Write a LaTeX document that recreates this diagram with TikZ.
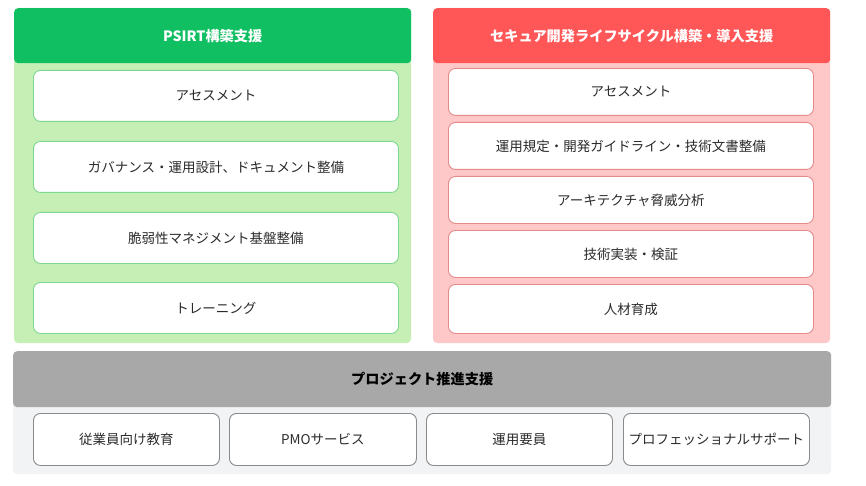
\documentclass[tikz,border=0pt]{standalone}
\usepackage{fontspec}
\setmainfont{Noto Sans CJK JP}
\usetikzlibrary{positioning}
\definecolor{ghead}{HTML}{10BF62}
\definecolor{gbody}{HTML}{C6EFB6}
\definecolor{gline}{HTML}{7ED78E}
\definecolor{rhead}{HTML}{FF5757}
\definecolor{rbody}{HTML}{FFC8C8}
\definecolor{rline}{HTML}{E38A8A}
\definecolor{khead}{HTML}{A8A8A8}
\definecolor{kbody}{HTML}{F2F3F5}
\definecolor{kline}{HTML}{8A8A8A}
\definecolor{txt}{HTML}{2B2B2B}
\tikzset{
  x=1pt, y=-1pt,
  head/.style={rounded corners=4pt, inner sep=0pt, font=\fontsize{14.2}{16}\selectfont\bfseries},
  itembox/.style={draw, line width=0.9pt, fill=white, rounded corners=7pt, inner sep=0pt, text=txt, font=\fontsize{13.5}{15}\selectfont},
}
\newcommand{\boxat}[7]{% name, x1, y1, x2, y2, style color, text
  \node[itembox, draw=#6, minimum width={(#4-#2)*1pt}, minimum height={(#5-#3)*1pt}, anchor=north west] (#1) at (#2,#3) {#7};}
\begin{document}
\begin{tikzpicture}
\useasboundingbox (0,0) rectangle (866,486);
\fill[white] (0,0) rectangle (866,486);
% green panel
\fill[gbody, rounded corners=4pt] (14,8) rectangle (411,343);
\node[head, fill=ghead, text=white, minimum width=397pt, minimum height=55pt, anchor=north west] (gh) at (14,8) {PSIRT構築支援};
\boxat{g1}{33}{70}{398}{121}{gline}{アセスメント}
\boxat{g2}{33}{141}{398}{192}{gline}{ガバナンス・運用設計、ドキュメント整備}
\boxat{g3}{33}{212}{398}{263}{gline}{脆弱性マネジメント基盤整備}
\boxat{g4}{33}{282}{398}{333}{gline}{トレーニング}
% red panel
\fill[rbody, rounded corners=4pt] (433,8) rectangle (830,343);
\node[head, fill=rhead, text=white, minimum width=397pt, minimum height=55pt, anchor=north west] (rh) at (433,8) {セキュア開発ライフサイクル構築・導入支援};
\boxat{r1}{448}{68}{813}{115}{rline}{アセスメント}
\boxat{r2}{448}{122}{813}{169}{rline}{運用規定・開発ガイドライン・技術文書整備}
\boxat{r3}{448}{176}{813}{223}{rline}{アーキテクチャ脅威分析}
\boxat{r4}{448}{230}{813}{277}{rline}{技術実装・検証}
\boxat{r5}{448}{284}{813}{333}{rline}{人材育成}
% gray panel
\fill[kbody, rounded corners=4pt] (13,351) rectangle (831,474);
\node[head, fill=khead, text=black, minimum width=818pt, minimum height=56pt, anchor=north west] (kh) at (13,351) {プロジェクト推進支援};
\boxat{k1}{33}{413}{219}{465}{kline}{従業員向け教育}
\boxat{k2}{229}{413}{416}{465}{kline}{PMOサービス}
\boxat{k3}{426}{413}{612}{465}{kline}{運用要員}
\boxat{k4}{623}{413}{809}{465}{kline}{プロフェッショナルサポート}
\end{tikzpicture}
\end{document}
